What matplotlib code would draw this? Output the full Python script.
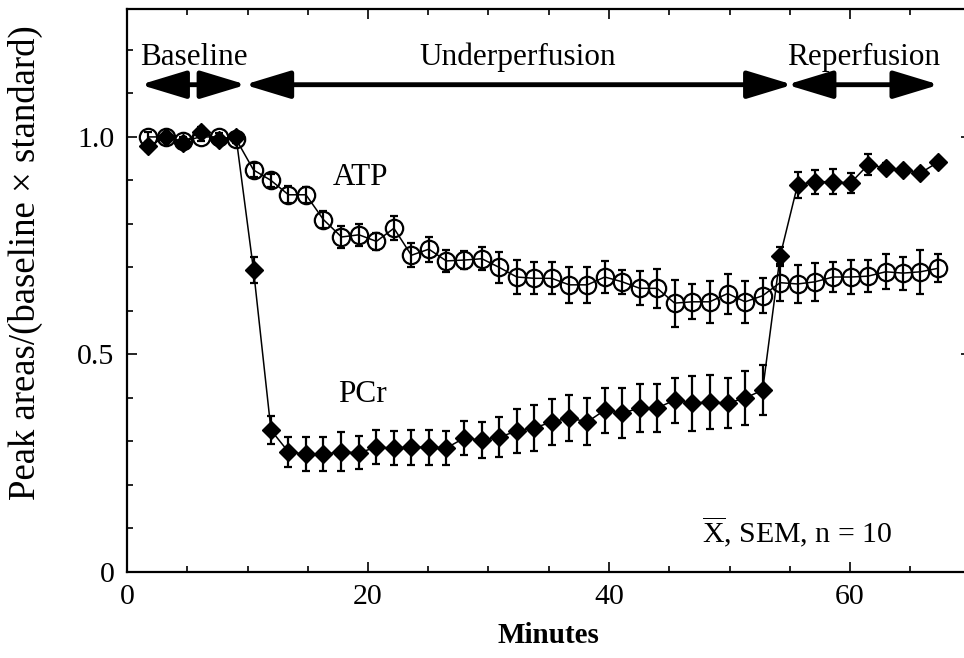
import matplotlib
matplotlib.use("Agg")
import matplotlib.pyplot as plt
from matplotlib.patches import ArrowStyle

plt.rcParams['font.family'] = ['Liberation Serif', 'DejaVu Serif']
plt.rcParams['mathtext.fontset'] = 'custom'
plt.rcParams['mathtext.rm'] = 'Liberation Serif'

minutes = [1.75, 3.2, 4.65, 6.1, 7.6, 9.05, 10.5, 11.95, 13.4, 14.85, 16.3, 17.8,
           19.25, 20.7, 22.15, 23.6, 25.05, 26.5, 28.0, 29.45, 30.9, 32.35, 33.8,
           35.25, 36.7, 38.2, 39.65, 41.1, 42.55, 44.0, 45.45, 46.9, 48.35, 49.85,
           51.3, 52.75, 54.2, 55.65, 57.1, 58.6, 60.05, 61.5, 62.95, 64.4, 65.85, 67.3]

atp = [1.00, 1.00, 0.99, 1.00, 1.00, 0.995, 0.924, 0.90, 0.867, 0.867, 0.81, 0.77,
       0.775, 0.76, 0.79, 0.728, 0.742, 0.715, 0.717, 0.72, 0.70, 0.678, 0.675,
       0.675, 0.66, 0.66, 0.678, 0.667, 0.652, 0.652, 0.618, 0.621, 0.621, 0.64,
       0.621, 0.635, 0.665, 0.662, 0.667, 0.678, 0.678, 0.68, 0.69, 0.687, 0.69, 0.698]
atp_sem = [0.012, 0.01, 0.01, 0.01, 0.01, 0.01, 0.015, 0.015, 0.02, 0.018, 0.02, 0.026,
           0.025, 0.02, 0.028, 0.028, 0.029, 0.025, 0.02, 0.026, 0.036, 0.039, 0.037,
           0.037, 0.041, 0.041, 0.037, 0.028, 0.039, 0.045, 0.054, 0.04, 0.048, 0.046,
           0.048, 0.04, 0.042, 0.044, 0.043, 0.035, 0.038, 0.037, 0.04, 0.038, 0.05, 0.032]

pcr = [0.978, 1.0, 0.987, 1.012, 0.993, 1.0, 0.694, 0.326, 0.276, 0.271, 0.271, 0.276,
       0.274, 0.287, 0.285, 0.287, 0.287, 0.285, 0.308, 0.303, 0.31, 0.324, 0.331,
       0.345, 0.354, 0.345, 0.372, 0.365, 0.377, 0.377, 0.395, 0.388, 0.391, 0.388,
       0.40, 0.418, 0.726, 0.89, 0.897, 0.897, 0.894, 0.936, 0.929, 0.924, 0.917, 0.942]
pcr_sem = [0.01, 0.01, 0.01, 0.01, 0.01, 0.01, 0.029, 0.032, 0.034, 0.04, 0.04, 0.045,
           0.038, 0.039, 0.04, 0.04, 0.04, 0.04, 0.04, 0.042, 0.046, 0.05, 0.052,
           0.053, 0.052, 0.054, 0.052, 0.057, 0.056, 0.055, 0.052, 0.063, 0.062, 0.057,
           0.061, 0.057, 0.022, 0.03, 0.028, 0.029, 0.023, 0.024, 0.01, 0.01, 0.01, 0.01]

phases = ["Baseline", "Underperfusion", "Reperfusion"]
phase_start = [1.1, 9.75, 54.75]
phase_end = [9.9, 55.25, 67.4]
phase_label_x = [5.55, 32.4, 61.1]

x_ticks = [0, 20, 40, 60]
y_ticks = [0, 0.5, 1.0]
y_tick_labels = ["0", "0.5", "1.0"]

W, H = 964, 658
fig = plt.figure(figsize=(W / 100, H / 100), dpi=100)
ax = fig.add_axes([127 / W, 1 - 572 / H, 843.5 / W, 563 / H])
ax.set_xlim(0, 70)
ax.set_ylim(0, 1.294)

ax.errorbar(minutes, pcr, yerr=pcr_sem, fmt='-', color='black', lw=1.1,
            marker='D', markersize=9.5, mfc='black', mec='black',
            ecolor='black', elinewidth=1.6, capsize=3, capthick=1.6, zorder=3)
ax.errorbar(minutes, atp, yerr=atp_sem, fmt='-', color='black', lw=1.1,
            marker='o', markersize=12.5, mfc='none', mec='black', mew=1.6,
            ecolor='black', elinewidth=1.6, capsize=3, capthick=1.6, zorder=4)

arrow_y = 1.12
style = ArrowStyle('<|-|>', head_length=28, head_width=8.5)
for name, x0, x1, lx in zip(phases, phase_start, phase_end, phase_label_x):
    ax.annotate('', xy=(x1, arrow_y), xytext=(x0, arrow_y),
                arrowprops=dict(arrowstyle=style, mutation_scale=1, lw=3.5,
                                color='black', shrinkA=0, shrinkB=0))
    ax.text(lx, 1.166, name, ha='center', va='baseline', fontsize=22.5)

ax.text(19.4, 0.89, "ATP", ha='center', va='baseline', fontsize=22.5)
ax.text(19.5, 0.391, "PCr", ha='center', va='baseline', fontsize=22.5)
ax.text(55.6, 0.069, r"$\overline{\mathrm{X}}$, SEM, n = 10", ha='center',
        va='baseline', fontsize=21.5)

ax.set_xticks(x_ticks)
ax.set_xticks(range(0, 71, 5), minor=True)
ax.set_yticks(y_ticks)
ax.set_yticklabels(y_tick_labels)
ax.set_yticks([i / 10 for i in range(0, 13)], minor=True)
ax.tick_params(which='both', direction='in', top=True, right=True, labelsize=21.5,
               width=1.2, color='black')
ax.tick_params(which='major', length=7, pad=9)
ax.tick_params(which='minor', length=4)
for s in ax.spines.values():
    s.set_linewidth(1.6)

ax.set_xlabel("Minutes", fontsize=21, fontweight='semibold', labelpad=8)
ax.set_ylabel("Peak areas/(baseline \u00d7 standard)", fontsize=26.5)
ax.yaxis.set_label_coords(-0.100, 0.55)

fig.savefig("out.png", dpi=100)
